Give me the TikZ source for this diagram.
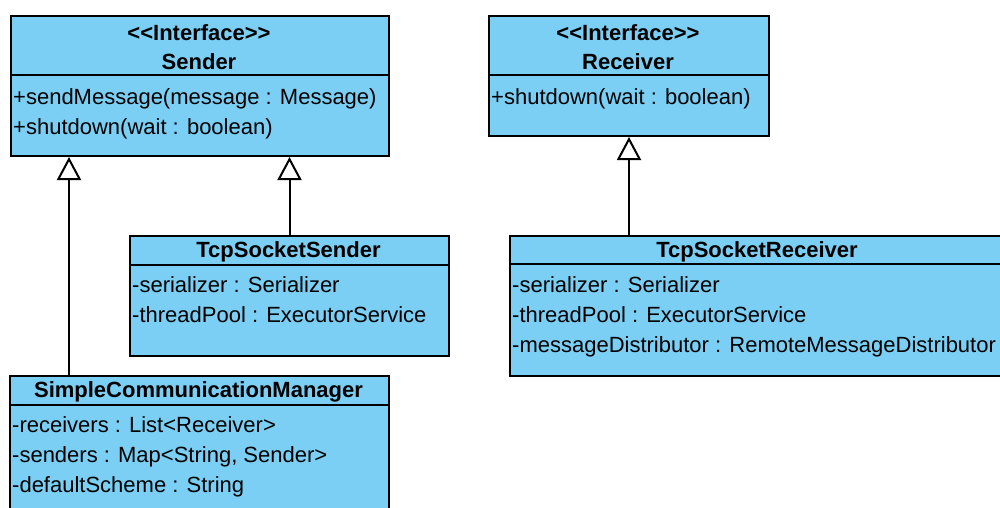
\documentclass[tikz,border=0pt]{standalone}
\usepackage{fontspec}
\setmainfont{Liberation Sans}
\usetikzlibrary{arrows.meta}

\definecolor{umlblue}{HTML}{7BCFF4}

\tikzset{
  classbox/.style={draw, line width=2pt, fill=umlblue, anchor=north west, inner sep=0pt},
  classtitle/.style={font=\bfseries\fontsize{22}{29}\selectfont, align=center, inner sep=0pt},
  members/.style={font=\fontsize{22}{30}\selectfont, align=left, anchor=north west, inner sep=0pt},
  divider/.style={line width=2pt},
  realizes/.style={line width=2pt, -{Triangle[open, length=23pt, width=24pt, line width=2pt]}}
}

\begin{document}
\begin{tikzpicture}[x=1pt, y=-1pt]
  \useasboundingbox (0,0) rectangle (1000,508);
  \clip (0,0) rectangle (1000,508);

  % interfaces
  \node[classbox, minimum width=378pt, minimum height=140pt] (sender) at (10,15) {};
  \draw[divider] (10,75) -- (388,75);
  \node[classtitle] (sendertitle) at (199,47.5) {<\kern0pt<Interface>\kern0pt>\\Sender};
  \node[members] (sendermethods) at (13,88.5) {+sendMessage(message : Message)\\+shutdown(wait : boolean)};

  \node[classbox, minimum width=280pt, minimum height=120pt] (receiver) at (488,15) {};
  \draw[divider] (488,75) -- (768,75);
  \node[classtitle] (receivertitle) at (628,47.5) {<\kern0pt<Interface>\kern0pt>\\Receiver};
  \node[members] (receivermethods) at (491,88.5) {+shutdown(wait : boolean)};

  % implementations
  \node[classbox, minimum width=319pt, minimum height=120pt] (tcpsender) at (129,235) {};
  \draw[divider] (129,265) -- (448,265);
  \node[classtitle] (tcpsendertitle) at (288.5,252) {TcpSocketSender};
  \node[members] (tcpsenderattrs) at (132,276.5) {-serializer : Serializer\\-threadPool : ExecutorService};

  \node[classbox, minimum width=496pt, minimum height=140pt] (tcpreceiver) at (509,235) {};
  \draw[divider] (509,264) -- (1005,264);
  \node[classtitle] (tcpreceivertitle) at (757,252) {TcpSocketReceiver};
  \node[members] (tcpreceiverattrs) at (512,276.5) {-serializer : Serializer\\-threadPool : ExecutorService\\-messageDistributor : RemoteMessageDistributor};

  \node[classbox, minimum width=379pt, minimum height=150pt] (manager) at (9,375) {};
  \draw[divider] (9,405) -- (388,405);
  \node[classtitle] (managertitle) at (198.5,392) {SimpleCommunicationManager};
  \node[members] (managerattrs) at (12,416.5) {-receivers : List<Receiver>\\-senders : Map<String, Sender>\\-defaultScheme : String};

  % realizations
  \coordinate (mgrlink) at ([xshift=60pt]manager.north west);
  \draw[realizes] (mgrlink) -- (mgrlink |- sender.south);
  \draw[realizes] (tcpsender.north) -- (tcpsender.north |- sender.south);
  \draw[realizes] (receiver.south |- tcpreceiver.north) -- (receiver.south);
\end{tikzpicture}
\end{document}
